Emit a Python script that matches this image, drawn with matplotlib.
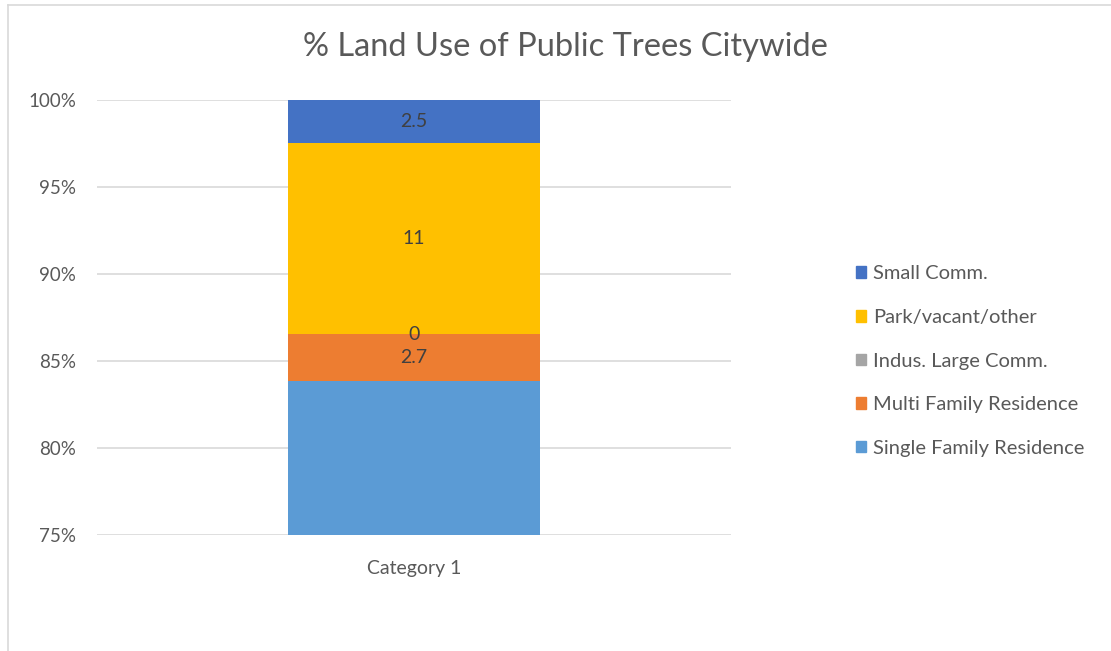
import matplotlib.pyplot as plt
from matplotlib.lines import Line2D
from matplotlib.patches import Patch

# data
categories = ['Category 1']
series_names = ['Single Family Residence', 'Multi Family Residence', 'Indus. Large Comm.',
                'Park/vacant/other', 'Small Comm.']
series_values = [84, 2.7, 0, 11, 2.5]
series_colors = ['#5B9BD5', '#ED7D31', '#A5A5A5', '#FFC000', '#4472C4']
yticks = [75, 80, 85, 90, 95, 100]

plt.rcParams['font.family'] = ['Lato', 'DejaVu Sans']
txt_gray = '#595959'

fig = plt.figure(figsize=(11.11, 6.51), dpi=100)
ax = fig.add_axes([97 / 1111, 1 - 535 / 651, 634 / 1111, 435 / 651])

total = sum(series_values)
bottom = 0.0
for name, val, col in zip(series_names, series_values, series_colors):
    pct = val / total * 100
    ax.bar(0, pct, bottom=bottom, width=0.3975, color=col, label=name, zorder=3)
    ax.text(0, bottom + pct / 2, '%g' % val, ha='center', va='center',
            fontsize=14, color='#404040', zorder=4)
    bottom += pct

ax.set_xlim(-0.5, 0.5)
ax.set_ylim(75, 100)
ax.set_yticks(yticks)
ax.set_yticklabels(['%d%%' % t for t in yticks])
ax.set_xticks([0])
ax.set_xticklabels(categories)
ax.tick_params(axis='y', length=0, labelsize=13.5, colors=txt_gray, pad=15)
ax.tick_params(axis='x', length=0, labelsize=14, colors=txt_gray, pad=18)
ax.grid(axis='y', color='#D9D9D9', linewidth=1.2, zorder=0)
ax.xaxis.label.set_visible(False)
ax.yaxis.label.set_visible(False)
ax.xaxis.offsetText.set_visible(False)
ax.yaxis.offsetText.set_visible(False)
for s in ax.spines.values():
    s.set_visible(False)

fig.text(565 / 1111, 1 - 47 / 651, '% Land Use of Public Trees Citywide', ha='center', va='center',
         fontsize=23.5, color=txt_gray)

handles = [Patch(color=c) for c in series_colors][::-1]
labels = series_names[::-1]
fig.legend(handles, labels, loc='center left', bbox_to_anchor=(838 / 1111, 1 - 361 / 651),
           frameon=False, fontsize=14.5, labelcolor=txt_gray, handlelength=0.5, handleheight=0.5,
           handletextpad=0.35, labelspacing=1.32)

# chart frame
fig.add_artist(Line2D([8 / 1111, 8 / 1111], [0, 1 - 5 / 651], color='#D9D9D9', linewidth=1.2))
fig.add_artist(Line2D([8 / 1111, 1], [1 - 5 / 651, 1 - 5 / 651], color='#D9D9D9', linewidth=1.2))

fig.savefig('out.png', dpi=100, facecolor='white')
